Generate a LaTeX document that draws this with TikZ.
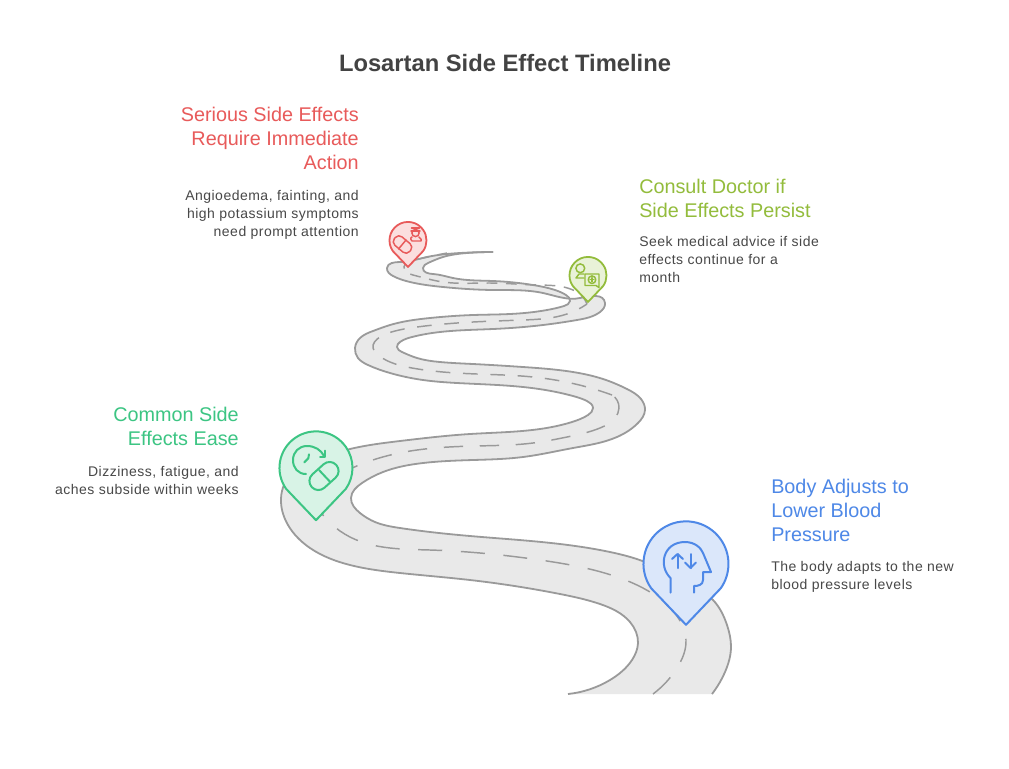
\documentclass[tikz,border=0pt]{standalone}
\usepackage{fontspec}
\setmainfont{Liberation Sans}
\newfontfamily\notefont[LetterSpace=3.5]{Liberation Sans}
\usetikzlibrary{hobby}
\definecolor{roadfill}{HTML}{E9E9E9}
\definecolor{roadline}{HTML}{9A9A9A}
\definecolor{inktitle}{HTML}{434343}
\definecolor{inkbody}{HTML}{484848}
\definecolor{redline}{HTML}{E85A5A}
\definecolor{redfill}{HTML}{FBDEDE}
\definecolor{oliveline}{HTML}{93BC3C}
\definecolor{olivefill}{HTML}{E9F2D8}
\definecolor{greenline}{HTML}{3CC583}
\definecolor{greenfill}{HTML}{D8F3E6}
\definecolor{blueline}{HTML}{4E88E7}
\definecolor{bluefill}{HTML}{DBE7FA}
% Road edges, running from the bottom of the road up to its narrow far end
\def\edgeA{(568,694) .. (610,680) .. (632,660) .. (638,643) .. (630,622) .. (600,604) .. (560,594) .. (470,580) .. (400,573) .. (350,565) .. (310,548) .. (288,525) .. (281,502) .. (290,475) .. (320,458) .. (350,449) .. (400,441) .. (470,434) .. (540,429) .. (572,422) .. (588,415) .. (593,408) .. (587,401) .. (573,396) .. (523,387) .. (457,383) .. (423,380) .. (390,373) .. (368,365) .. (358,358) .. (355,348) .. (360,338) .. (373,331) .. (390,325) .. (430,318) .. (473,315) .. (510,314) .. (547,310) .. (564,306) .. (570,301) .. (566,295) .. (555,290) .. (533,285) .. (493,281) .. (453,278) .. (433,274) .. (423,268) .. (428,263) .. (443,257) .. (467,253) .. (493,252)}
\def\edgeB{(493,252) .. (460,253) .. (427,257) .. (400,262) .. (387,268) .. (393,276) .. (410,282) .. (443,287) .. (493,290) .. (543,293) .. (580,298) .. (605,303) .. (600,312) .. (577,320) .. (543,325) .. (493,329) .. (440,332) .. (412,337) .. (400,342) .. (397,347) .. (402,352) .. (417,358) .. (440,362) .. (473,364) .. (523,367) .. (573,372) .. (603,379) .. (627,389) .. (641,399) .. (645,410) .. (638,423) .. (617,437) .. (573,448) .. (523,457) .. (473,460) .. (423,463) .. (383,472) .. (362,483) .. (351,498) .. (360,513) .. (375,522) .. (400,528) .. (470,536) .. (560,544) .. (610,552) .. (645,562) .. (685,582) .. (713,600) .. (727,625) .. (731,647) .. (725,672) .. (712,694)}
% Lane marking, in stretches whose dashes shorten towards the far end
\def\laneA{(653,694) .. (677,668) .. (686,640) .. (672,610) .. (620,578) .. (540,560) .. (430,550) .. (350,537) .. (316,505)}
\def\laneB{(340,474) .. (367,462) .. (417,450) .. (475,446) .. (533,443) .. (567,437) .. (600,428) .. (615,418) .. (619,408) .. (612,395)}
\def\laneC{(612,395) .. (587,387) .. (533,377) .. (477,374) .. (412,368) .. (390,362) .. (378,355) .. (373,348) .. (380,337) .. (395,331) .. (417,327) .. (473,322) .. (523,320) .. (567,314) .. (587,304)}
\def\laneD{(587,304) .. (582,296) .. (573,290) .. (537,285) .. (490,283) .. (443,282) .. (413,275) .. (404,267) .. (411,261) .. (423,258) .. (447,253)}
\tikzset{
  titletext/.style={font=\bfseries\fontsize{17.8}{22}\selectfont,text=inktitle},
  headleft/.style={font=\fontsize{14.85}{18}\selectfont,align=right,anchor=north east,inner sep=0pt},
  headright/.style={font=\fontsize{14.85}{18}\selectfont,align=left,anchor=north west,inner sep=0pt},
  bodyleft/.style={font=\notefont\fontsize{10.5}{13.5}\selectfont,text=inkbody,align=right,anchor=north east,inner sep=0pt},
  bodyright/.style={font=\notefont\fontsize{10.5}{13.5}\selectfont,text=inkbody,align=left,anchor=north west,inner sep=0pt},
  roadedge/.style={draw=roadline,line width=1.35pt},
  lane/.style={draw=roadline,line width=1.1pt},
  glyph/.style={line width=#1,line cap=round,line join=round},
  glyph/.default=1.5pt
}
% Map pin: centre x, centre y, radius, fill, stroke, stroke width
\newcommand\droppin[6]{%
  \filldraw[fill=#4,draw=#5,line width=#6,line join=round]
    (#1,#2+1.43*#3) -- (#1-0.82*#3,#2+0.57*#3)
    arc[start angle=145,end angle=395,radius=#3]
    -- cycle;}
\begin{document}
\begin{tikzpicture}[x=0.75pt,y=-0.75pt]
\useasboundingbox (0,0) rectangle (1009,768);
\fill[white] (0,0) rectangle (1009,768);

% Road surface, edges and lane marking
\fill[roadfill,use Hobby shortcut] \edgeA -- \edgeB -- cycle;
\draw[roadedge,use Hobby shortcut] \edgeA;
\draw[roadedge,use Hobby shortcut] \edgeB;
\draw[lane,dash pattern=on 18pt off 14pt,use Hobby shortcut] \laneA;
\draw[lane,dash pattern=on 14.5pt off 12.5pt,use Hobby shortcut] \laneB;
\draw[lane,dash pattern=on 11pt off 9.5pt,use Hobby shortcut] \laneC;
\draw[lane,dash pattern=on 8pt off 6.5pt,use Hobby shortcut] \laneD;

% Pins
\droppin{408}{240.5}{18.5}{redfill}{redline}{1.35pt}
\droppin{588}{275.5}{18.5}{olivefill}{oliveline}{1.35pt}
\droppin{316}{468}{36.5}{greenfill}{greenline}{1.5pt}
\droppin{686}{564}{42.5}{bluefill}{blueline}{1.5pt}

% Clock and capsule
\begin{scope}[glyph]
  \draw[greenline] (306,474) .. controls (298,474) and (293,468) .. (293,460) .. controls (293,452) and (299,446) .. (307,446) .. controls (315,446) and (321,450) .. (324,456);
  \draw[greenline] (320,456.7) -- (325,456.7) -- (325,450.7);
  \draw[greenline] (309,454.3) -- (308.3,458.3) -- (304.3,462.3);
  \draw[greenline,rounded corners=6.7pt,rotate around={42:(324,476)}] (307.5,467) rectangle (340.5,485);
  \draw[greenline] (319,470) -- (330,481.7);
\end{scope}

% Head with arrows
\begin{scope}[glyph]
  \draw[blueline] (670.5,592.5) -- (670.5,578) .. controls (658,566) and (663,542) .. (685,542) .. controls (695,542) and (701,548) .. (703,553) -- (711,572) -- (703,572) -- (703,580) .. controls (703,585) and (698,586) .. (694,586) -- (694,592.5);
  \draw[blueline] (677.5,568) -- (677.5,554);
  \draw[blueline] (672,559) -- (677.5,554) -- (683,559);
  \draw[blueline] (690.5,554) -- (690.5,568);
  \draw[blueline] (685,562.5) -- (690.5,568) -- (696,562.5);
\end{scope}

% Capsule and doctor
\begin{scope}[glyph=1.1pt]
  \draw[redline,rounded corners=3.5pt,rotate around={-40:(402.5,244.5)}] (392.5,239) rectangle (412.5,250);
  \draw[redline] (398.5,249) -- (406,240);
  \draw[redline] (415.5,233) circle (3.6);
  \draw[redline] (411.5,228) -- (419.5,228) (411,231) -- (420,231);
  \draw[redline] (412,237) .. controls (409,238) and (412,241) .. (412,241) -- (421,241) .. controls (421,241) and (422,238) .. (419,237);
\end{scope}

% Person and speech box with a cross
\begin{scope}[glyph=1.1pt]
  \draw[oliveline] (580.3,268.3) circle (4.4);
  \draw[oliveline] (584,274) -- (579,274) -- (576,278) -- (584,278);
  \draw[oliveline] (585,274) -- (599,274) -- (599,287.5) -- (596,285.5) -- (585,285.5) -- cycle;
  \draw[oliveline] (592,279.7) circle (3.8);
  \draw[oliveline] (592,277.7) -- (592,281.7) (590,279.7) -- (594,279.7);
\end{scope}

% Labels
\node[titletext] (title) at (505,63) {Losartan Side Effect Timeline};

\node[headleft,text=redline] (serioushead) at (359,107) {Serious Side Effects\\Require Immediate\\Action};
\node[bodyleft] (seriousbody) at (359,190.5) {Angioedema, fainting, and\\high potassium symptoms\\need prompt attention};

\node[headright,text=oliveline] (consulthead) at (639,179) {Consult Doctor if\\Side Effects Persist};
\node[bodyright] (consultbody) at (639,236) {Seek medical advice if side\\effects continue for a\\month};

\node[headleft,text=greenline] (commonhead) at (239,407) {Common Side\\Effects Ease};
\node[bodyleft] (commonbody) at (239,466) {Dizziness, fatigue, and\\aches subside within weeks};

\node[headright,text=blueline] (bodyhead) at (771,479) {Body Adjusts to\\Lower Blood\\Pressure};
\node[bodyright] (bodybody) at (771,561) {The body adapts to the new\\blood pressure levels};
\end{tikzpicture}
\end{document}
